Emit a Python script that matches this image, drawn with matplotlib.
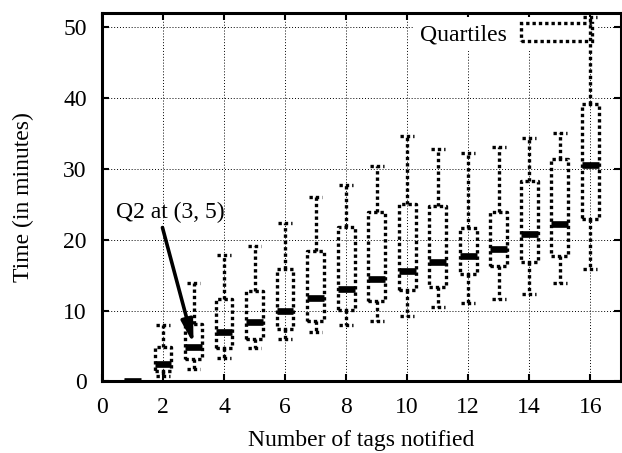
import numpy as np
import matplotlib
matplotlib.use("Agg")
import matplotlib.pyplot as plt
from matplotlib.patches import Patch

plt.rcParams['font.family'] = ['Liberation Serif', 'DejaVu Serif']

# number of tags notified
tags = list(range(1, 17))
# whisker low, Q1, median, Q3, whisker high (minutes)
w_low = [0, 0.7, 1.8, 3.3, 4.7, 6.0, 7.0, 7.9, 8.6, 9.3, 10.5, 11.1, 11.7, 12.3, 13.9, 15.9]
q1 = [0, 1.5, 3.2, 4.7, 6.0, 7.4, 8.5, 10.1, 11.4, 12.9, 13.3, 15.2, 16.3, 16.9, 17.7, 23.0]
q2 = [0, 2.4, 4.9, 7.0, 8.4, 9.9, 11.8, 13.0, 14.5, 15.6, 16.9, 17.7, 18.7, 20.8, 22.2, 30.5]
q3 = [0, 4.8, 8.1, 11.6, 12.8, 15.9, 18.4, 21.8, 23.9, 25.1, 24.7, 21.7, 23.9, 28.3, 31.4, 39.2]
w_high = [0, 7.9, 13.9, 17.9, 19.1, 22.4, 26.1, 27.7, 30.4, 34.6, 32.8, 32.3, 33.1, 34.4, 35.1, 51.5]

stats = []
for i in range(len(tags)):
    stats.append({'whislo': w_low[i], 'q1': q1[i], 'med': q2[i],
                  'q3': q3[i], 'whishi': w_high[i], 'fliers': []})

fig = plt.figure(figsize=(6.22, 4.53), dpi=100)
ax = fig.add_axes([0.164, 0.158, 0.834, 0.813])

dots = (0, (1, 0.9))
ax.bxp(stats, positions=tags, widths=0.55, capwidths=0.45,
       showfliers=False, manage_ticks=False,
       boxprops=dict(color='black', linestyle=dots, linewidth=2.4),
       whiskerprops=dict(color='black', linestyle=dots, linewidth=2.4),
       capprops=dict(color='black', linestyle=dots, linewidth=2.4),
       medianprops=dict(color='black', linestyle='-', linewidth=4.8, solid_capstyle='butt'))

ax.set_xlim(0, 17)
ax.set_ylim(0, 52)
ax.set_xticks(np.arange(0, 17, 2))
ax.set_yticks(np.arange(0, 51, 10))
ax.set_axisbelow(True)
ax.grid(True, color='black', linestyle=(0, (1, 2)), linewidth=0.7)
ax.tick_params(direction='in', top=True, right=True, length=5, width=1.5,
               labelsize=17, pad=11)
for s in ax.spines.values():
    s.set_linewidth(2.2)

ax.set_xlabel('Number of tags notified', fontsize=17, labelpad=9)
ax.set_ylabel('Time (in minutes)', fontsize=17, labelpad=21)

ax.annotate('Q2 at (3, 5)', xy=(3, 5.3), xytext=(0.45, 23.8), fontsize=17,
            va='center', ha='left',
            arrowprops=dict(arrowstyle='-|>,head_length=0.8,head_width=0.2',
                            color='black', lw=2.6, shrinkA=1, shrinkB=0,
                            relpos=(0.42, 0.0)))

handle = Patch(facecolor='none', edgecolor='black', linestyle=dots, linewidth=2.4)
leg = ax.legend([handle], ['Quartiles'], loc='upper right',
                bbox_to_anchor=(0.956, 0.99), fontsize=17,
                markerfirst=False, handlelength=3.0, handleheight=0.82,
                frameon=True, fancybox=False, framealpha=1,
                borderaxespad=0, borderpad=0.25, handletextpad=0.6)
leg.get_frame().set_edgecolor('white')
leg.get_frame().set_linewidth(0)
leg.set_zorder(1)

fig.savefig('out.png', dpi=100)
